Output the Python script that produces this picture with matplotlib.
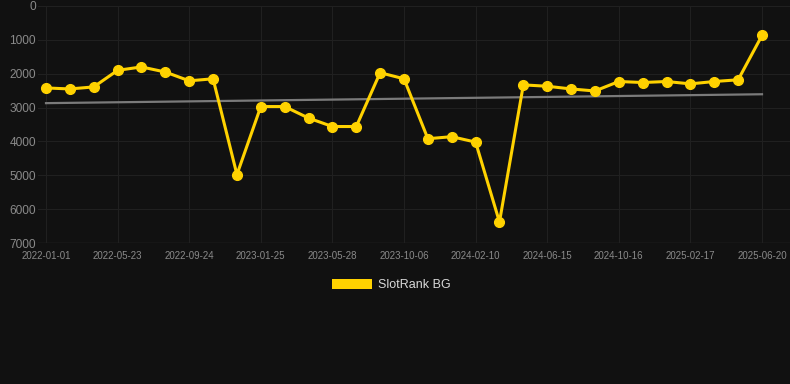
import numpy as np
import matplotlib.pyplot as plt
from matplotlib.patches import Patch

# rank values (lower is better, axis is inverted)
ranks = [2420, 2450, 2390, 1900, 1800, 1950, 2210, 2150, 4980, 2970,
         2970, 3310, 3560, 3560, 1970, 2150, 3920, 3860, 4020, 6380,
         2330, 2370, 2450, 2510, 2230, 2260, 2230, 2300, 2230, 2180, 870]
tick_labels = ['2022-01-01', '2022-05-23', '2022-09-24', '2023-01-25',
               '2023-05-28', '2023-10-06', '2024-02-10', '2024-06-15',
               '2024-10-16', '2025-02-17', '2025-06-20']
y_ticks = [0, 1000, 2000, 3000, 4000, 5000, 6000, 7000]

bg = '#111111'
gold = '#FFD200'

plt.rcParams['font.family'] = ['Liberation Sans', 'DejaVu Sans']

fig = plt.figure(figsize=(7.9, 3.84), dpi=100, facecolor=bg)
ax = fig.add_axes([38 / 790, 1 - 243 / 384, 1 - 38 / 790, (243 - 6) / 384])
ax.set_facecolor(bg)

x = np.arange(len(ranks))

# linear trend over the series
coef = np.polyfit(x, ranks, 1)
ax.plot(x, np.polyval(coef, x), color='#7a7a7a', lw=1.6, zorder=2)

ax.plot(x, ranks, color=gold, lw=2.2, marker='o', markersize=7,
        zorder=3, clip_on=False)

ax.set_ylim(7000, 0)
ax.set_xlim(-8 / 23.87, 30 + 28 / 23.87)
ax.set_yticks(y_ticks)
ax.set_yticklabels([str(v) for v in y_ticks])
ax.set_xticks(x[::3])
ax.set_xticklabels(tick_labels)

ax.grid(True, color='#202020', lw=0.8, zorder=0)
ax.tick_params(axis='y', length=0, pad=1.5, labelsize=8.6, labelcolor='#8a8a8a')
ax.tick_params(axis='x', length=0, pad=6, labelsize=7, labelcolor='#8a8a8a')
for s in ax.spines.values():
    s.set_visible(False)
ax.axhline(7000, color='#2c2c2c', lw=1, zorder=1)

fig.legend(handles=[Patch(facecolor=gold, label='SlotRank BG')],
           loc='center', bbox_to_anchor=(391 / 790, 1 - 285 / 384),
           frameon=False, fontsize=9, labelcolor='#d8d8d8',
           handlelength=3.2, handleheight=0.9, handletextpad=0.5)

fig.savefig('out.png', dpi=100, facecolor=bg)
